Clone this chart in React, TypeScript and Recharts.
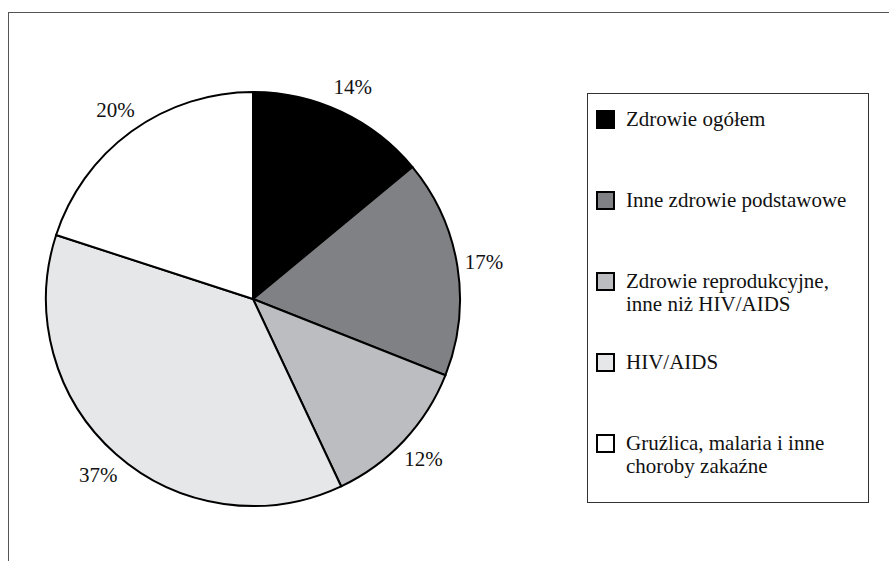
import { PieChart, Pie, Cell, Legend } from "recharts";

const categories = [
  "Zdrowie ogółem",
  "Inne zdrowie podstawowe",
  "Zdrowie reprodukcyjne,\ninne niż HIV/AIDS",
  "HIV/AIDS",
  "Gruźlica, malaria i inne\nchoroby zakaźne",
];
const shares = [14, 17, 12, 37, 20];
const sliceColors = ["#000000", "#808184", "#bcbdc0", "#e6e7e8", "#ffffff"];

const data = categories.map((name, i) => ({ name, value: shares[i] }));

const FONT = '"Liberation Serif", "Times New Roman", serif';
const RAD = Math.PI / 180;

function renderLabel(props: any) {
  const { cx, cy, midAngle, outerRadius, value } = props;
  const r = outerRadius + 27;
  const x = cx + r * Math.cos(-midAngle * RAD);
  const y = cy + r * Math.sin(-midAngle * RAD);
  return (
    <text
      x={x}
      y={y}
      textAnchor="middle"
      dominantBaseline="central"
      fontFamily={FONT}
      fontSize={21}
      fill="#111"
    >
      {`${value}%`}
    </text>
  );
}

function LegendBox() {
  return (
    <div
      style={{
        width: 282,
        height: 410,
        boxSizing: "border-box",
        border: "1.5px solid #333",
        background: "#fff",
        paddingTop: 14,
        paddingLeft: 8,
        fontFamily: FONT,
        fontSize: 21,
        lineHeight: "22.5px",
        color: "#111",
      }}
    >
      {categories.map((name, i) => (
        <div key={i} style={{ display: "flex", alignItems: "flex-start", height: 81 }}>
          <span
            style={{
              width: 19,
              height: 19,
              boxSizing: "border-box",
              border: "2px solid #000",
              background: sliceColors[i],
              marginTop: 2,
              marginRight: 11,
              flexShrink: 0,
            }}
          />
          <span style={{ whiteSpace: "pre-line" }}>{name}</span>
        </div>
      ))}
    </div>
  );
}

export default function App() {
  return (
    <div style={{ position: "absolute", left: 0, top: 0, width: 889, height: 561, background: "#fff" }}>
      <div
        style={{
          position: "absolute",
          left: 8,
          top: 12,
          width: 889 - 8,
          height: 561 - 12,
          borderTop: "1.5px solid #555",
          borderLeft: "1.5px solid #555",
        }}
      />
      <PieChart
        width={889}
        height={561}
        margin={{ top: 0, right: 0, bottom: 0, left: 0 }}
        style={{ position: "absolute", left: 0, top: 0 }}
      >
        <Pie
          data={data}
          dataKey="value"
          nameKey="name"
          cx={253}
          cy={299}
          outerRadius={207}
          startAngle={90}
          endAngle={-270}
          stroke="#000"
          strokeWidth={2}
          label={renderLabel}
          labelLine={false}
          isAnimationActive={false}
        >
          {data.map((_, i) => (
            <Cell key={i} fill={sliceColors[i]} />
          ))}
        </Pie>
        <Legend
          content={<LegendBox />}
          wrapperStyle={{ position: "absolute", left: 587, top: 93, width: 282, height: 410 }}
        />
      </PieChart>
    </div>
  );
}
